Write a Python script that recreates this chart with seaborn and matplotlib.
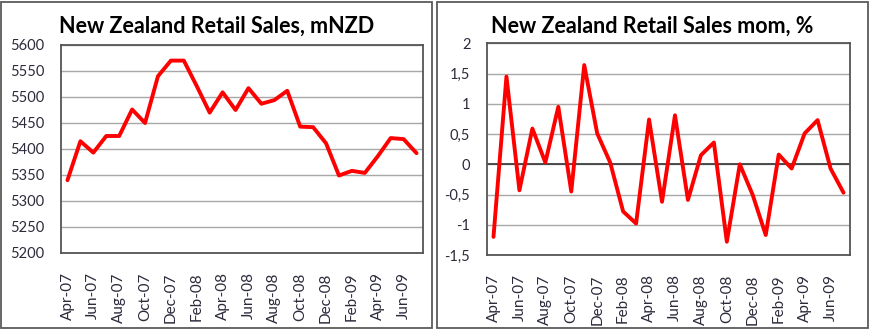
import numpy as np
import pandas as pd
import matplotlib
matplotlib.use("Agg")
import matplotlib.pyplot as plt
from matplotlib.patches import Rectangle
from matplotlib.ticker import FuncFormatter, MultipleLocator
import seaborn as sns

# Monthly series, Apr-07 .. Jul-09
months = ["Apr-07", "May-07", "Jun-07", "Jul-07", "Aug-07", "Sep-07", "Oct-07",
          "Nov-07", "Dec-07", "Jan-08", "Feb-08", "Mar-08", "Apr-08", "May-08",
          "Jun-08", "Jul-08", "Aug-08", "Sep-08", "Oct-08", "Nov-08", "Dec-08",
          "Jan-09", "Feb-09", "Mar-09", "Apr-09", "May-09", "Jun-09", "Jul-09"]

sales_mnzd = [5340, 5415, 5393, 5425, 5425, 5476, 5450, 5540, 5570, 5570,
              5521, 5470, 5509, 5475, 5517, 5487, 5494, 5512, 5443, 5442,
              5411, 5349, 5358, 5354, 5386, 5421, 5419, 5392]

sales_mom = [-1.20, 1.45, -0.43, 0.59, 0.03, 0.95, -0.45, 1.64, 0.51, 0.03,
             -0.78, -0.98, 0.74, -0.62, 0.81, -0.59, 0.15, 0.36, -1.28, 0.00,
             -0.51, -1.17, 0.16, -0.07, 0.51, 0.73, -0.07, -0.47]

titles = ["New Zealand Retail Sales, mNZD", "New Zealand Retail Sales mom, %"]

sns.set_theme(style="white")
plt.rcParams["font.family"] = ["Lato", "DejaVu Sans"]

fig = plt.figure(figsize=(8.7, 3.31), dpi=100)
fig.patch.set_facecolor("white")

W, H = 870.0, 331.0

def box(x0, y0, x1, y1):
    fig.patches.append(Rectangle((x0 / W, 1 - y1 / H), (x1 - x0) / W, (y1 - y0) / H,
                                 transform=fig.transFigure, fill=False,
                                 edgecolor="#5a5a5a", linewidth=1.3, zorder=0))

# Outer frames of the two panels
panels = [(1.5, 432.5), (437, 867.5)]
for x0, x1 in panels:
    box(x0, 1.5, x1, 328)

ax1 = fig.add_axes([61 / W, 1 - 253 / H, 362 / W, 208 / H])
ax2 = fig.add_axes([487 / W, 1 - 255 / H, 363 / W, 211.7 / H])

df1 = pd.DataFrame({"month": months, "value": sales_mnzd})
df2 = pd.DataFrame({"month": months, "value": sales_mom})

label_color = "#2b2b3c"
grid_color = "#a8a8a8"

for ax, df, title, (x0, x1) in [(ax1, df1, titles[0], panels[0]),
                                (ax2, df2, titles[1], panels[1])]:
    sns.lineplot(data=df, x="month", y="value", sort=False, ax=ax,
                 color="#ff0000", linewidth=2.8, zorder=3)
    ax.set_xlim(-0.5, len(months) - 0.5)
    ax.set_xticks(range(0, len(months), 2))
    ax.set_xticklabels(months[::2], rotation=90, va="top", ha="center")
    ax.set_xlabel("")
    ax.set_ylabel("")
    ax.grid(axis="y", color=grid_color, linewidth=1.0, zorder=1)
    ax.set_axisbelow(True)
    for s in ax.spines.values():
        s.set_color("#555555")
        s.set_linewidth(1.3)
    ax.tick_params(axis="x", length=0, pad=14, labelsize=11, labelcolor=label_color)
    ax.tick_params(axis="y", length=0, pad=12, labelsize=10.5, labelcolor=label_color)
    # Title centred over the whole panel frame
    fig.text((x0 + x1) / 2 / W, 1 - 33 / H, title, ha="center", va="baseline",
             fontsize=15.5, fontweight="bold", color="black")

ax1.set_ylim(5200, 5600)
ax1.yaxis.set_major_locator(MultipleLocator(50))

ax2.set_ylim(-1.5, 2)
ax2.yaxis.set_major_locator(MultipleLocator(0.5))
ax2.yaxis.set_major_formatter(FuncFormatter(lambda v, p: f"{v:g}".replace(".", ",")))
ax2.axhline(0, color="#404040", linewidth=1.3, zorder=2)

fig.savefig("out.png", dpi=100, facecolor="white")
